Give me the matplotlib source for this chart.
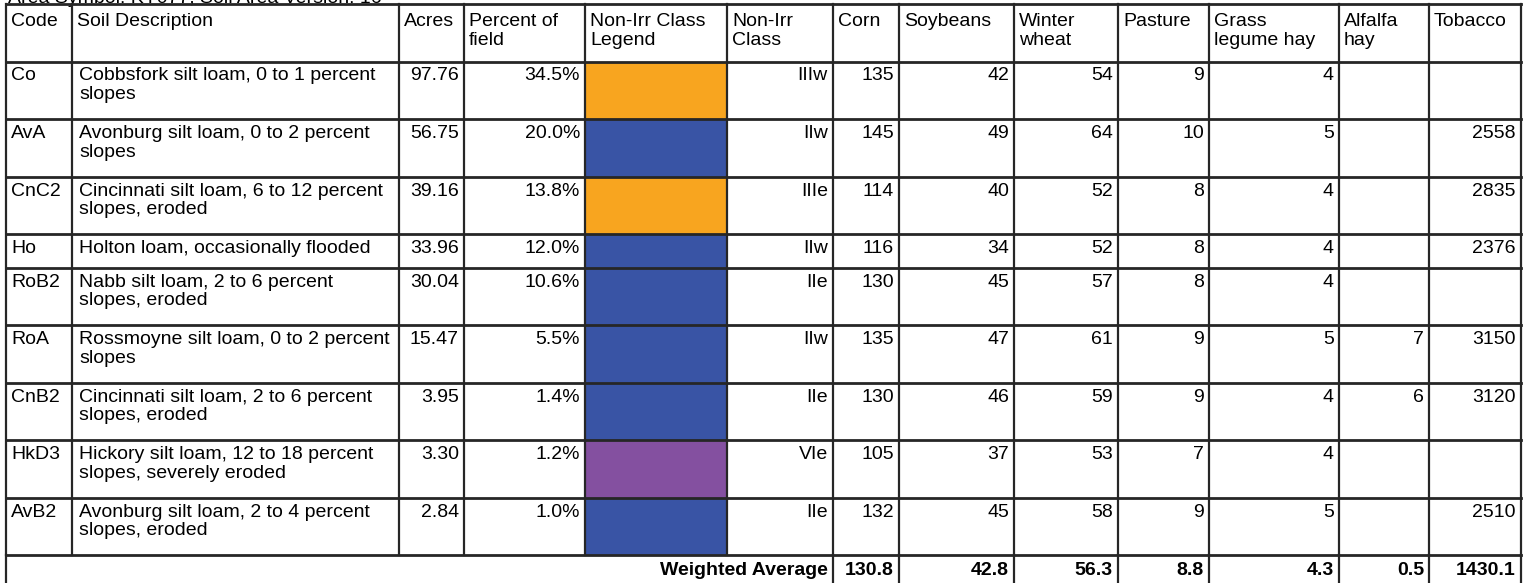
import matplotlib
matplotlib.use("Agg")
import matplotlib.pyplot as plt
from matplotlib.patches import Rectangle

plt.rcParams['font.family'] = ['Liberation Sans', 'DejaVu Sans']

# table content
title = "Area Symbol: KY077, Soil Area Version: 16"
headers = ["Code", "Soil Description", "Acres", "Percent of\nfield", "Non-Irr Class\nLegend",
           "Non-Irr\nClass", "Corn", "Soybeans", "Winter\nwheat", "Pasture",
           "Grass\nlegume hay", "Alfalfa\nhay", "Tobacco"]
codes = ["Co", "AvA", "CnC2", "Ho", "RoB2", "RoA", "CnB2", "HkD3", "AvB2"]
descriptions = [
    "Cobbsfork silt loam, 0 to 1 percent\nslopes",
    "Avonburg silt loam, 0 to 2 percent\nslopes",
    "Cincinnati silt loam, 6 to 12 percent\nslopes, eroded",
    "Holton loam, occasionally flooded",
    "Nabb silt loam, 2 to 6 percent\nslopes, eroded",
    "Rossmoyne silt loam, 0 to 2 percent\nslopes",
    "Cincinnati silt loam, 2 to 6 percent\nslopes, eroded",
    "Hickory silt loam, 12 to 18 percent\nslopes, severely eroded",
    "Avonburg silt loam, 2 to 4 percent\nslopes, eroded",
]
acres = [97.76, 56.75, 39.16, 33.96, 30.04, 15.47, 3.95, 3.30, 2.84]
percent = [34.5, 20.0, 13.8, 12.0, 10.6, 5.5, 1.4, 1.2, 1.0]
non_irr_class = ["IIIw", "IIw", "IIIe", "IIw", "IIe", "IIw", "IIe", "VIe", "IIe"]
corn = [135, 145, 114, 116, 130, 135, 130, 105, 132]
soybeans = [42, 49, 40, 34, 45, 47, 46, 37, 45]
winter_wheat = [54, 64, 52, 52, 57, 61, 59, 53, 58]
pasture = [9, 10, 8, 8, 8, 9, 9, 7, 9]
grass_hay = [4, 5, 4, 4, 4, 5, 4, 4, 5]
alfalfa_hay = [None, None, None, None, None, 7, 6, None, None]
tobacco = [None, 2558, 2835, 2376, None, 3150, 3120, None, 2510]
weighted_avg = [130.8, 42.8, 56.3, 8.8, 4.3, 0.5, 1430.1]

class_colors = {"II": "#3954a5", "III": "#f8a51f", "VI": "#8450a0"}

# layout (pixels)
W, H = 1523, 583
col_edges = [6, 72, 399, 464, 585, 727, 833, 899, 1014, 1118, 1209, 1339, 1429, 1521]
table_top = 4
row_pad = 10
line_h = 23.75
fs = 14
line_sp = 1.12
line_col = "#262626"


def row_height(text):
    return row_pad + line_h * (text.count("\n") + 1)


fig = plt.figure(figsize=(W / 100, H / 100), dpi=100)
ax = fig.add_axes([0, 0, 1, 1])
ax.set_xlim(0, W)
ax.set_ylim(H, 0)
ax.axis("off")

# title, mostly cut off at the top edge
ax.text(col_edges[0] + 2, table_top - 1, title, fontsize=fs, ha="left", va="baseline", color="black")

# row boundaries
row_tops = [table_top, table_top + row_height("\n")]
for d in descriptions:
    row_tops.append(row_tops[-1] + row_height(d))
wa_top = row_tops[-1]
wa_bottom = wa_top + row_height("")

# header
for j, h in enumerate(headers):
    ax.text(col_edges[j] + 5, table_top + 9, h, fontsize=fs, ha="left", va="top", linespacing=line_sp)

# body rows
for i in range(len(codes)):
    top, bot = row_tops[i + 1], row_tops[i + 2]
    prefix = non_irr_class[i].rstrip("we")
    ax.add_patch(Rectangle((col_edges[4], top), col_edges[5] - col_edges[4], bot - top,
                           facecolor=class_colors[prefix], edgecolor="none", zorder=1))
    ty = top + 6
    ax.text(col_edges[0] + 5, ty, codes[i], fontsize=fs, ha="left", va="top")
    ax.text(col_edges[1] + 7, ty, descriptions[i], fontsize=fs, ha="left", va="top", linespacing=line_sp)
    right_vals = {2: f"{acres[i]:.2f}", 3: f"{percent[i]:.1f}%", 5: non_irr_class[i],
                  6: corn[i], 7: soybeans[i], 8: winter_wheat[i], 9: pasture[i],
                  10: grass_hay[i], 11: alfalfa_hay[i], 12: tobacco[i]}
    for j, v in right_vals.items():
        if v is None:
            continue
        ax.text(col_edges[j + 1] - 5, ty, str(v), fontsize=fs, ha="right", va="top")

# weighted average row
ax.text(col_edges[6] - 5, wa_top + 7, "Weighted Average", fontsize=fs, fontweight="bold",
        ha="right", va="top")
for k, v in enumerate(weighted_avg):
    ax.text(col_edges[7 + k] - 5, wa_top + 7, f"{v:.1f}", fontsize=fs, fontweight="bold",
            ha="right", va="top")

# grid lines
for y in row_tops + [wa_bottom]:
    ax.plot([col_edges[0], col_edges[-1]], [y, y], color=line_col, lw=2.0, zorder=3,
            solid_capstyle="projecting")
for j, x in enumerate(col_edges):
    ax.plot([x, x], [table_top, wa_top], color=line_col, lw=1.6, zorder=3)
    if j == 0 or j >= 6:
        ax.plot([x, x], [wa_top, wa_bottom], color=line_col, lw=1.6, zorder=3)

fig.savefig("out.png", dpi=100)
plt.close(fig)
